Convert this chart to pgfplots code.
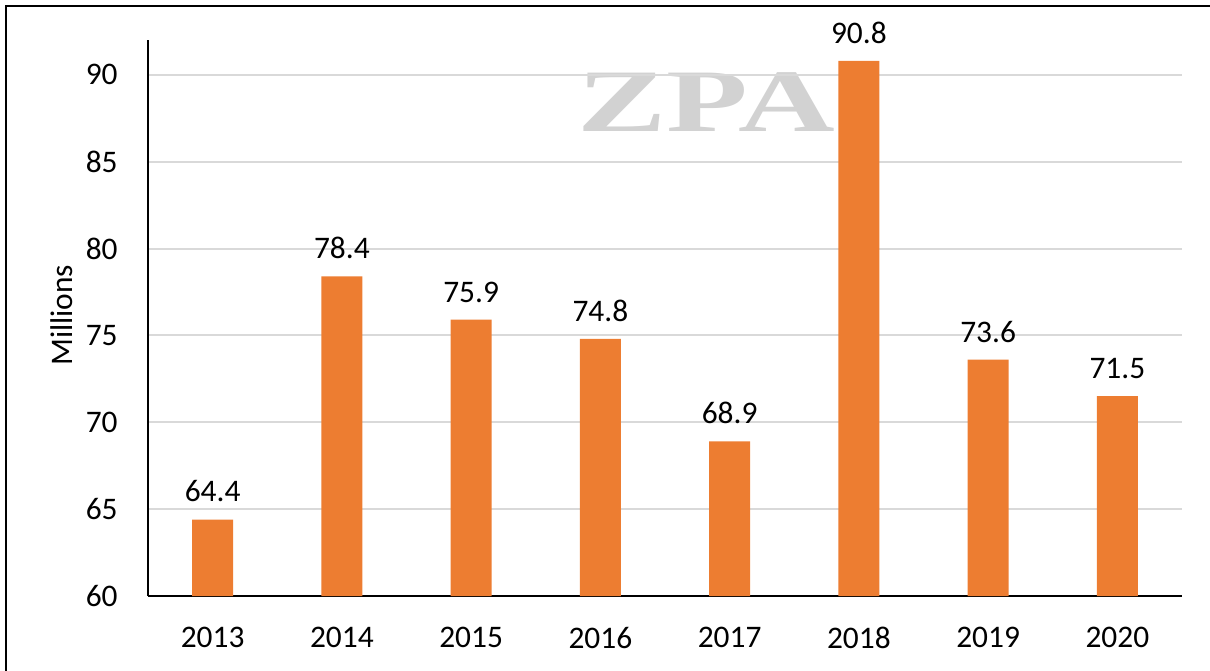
\documentclass[border=0pt]{standalone}
\usepackage{fontspec}
\setmainfont{Carlito}
\newfontfamily\wmfont{Liberation Serif}
\usepackage{pgfplots}
\pgfplotsset{compat=1.18}
\definecolor{barorange}{HTML}{ED7D31}
\definecolor{gridgray}{HTML}{D9D9D9}
\begin{document}
\begin{tikzpicture}
\useasboundingbox (0,0) rectangle (605pt,335pt);
\node[text=gray!35, font=\wmfont\bfseries\fontsize{44.6}{44.6}\selectfont, xscale=1.5, inner sep=0pt] at (353pt,284pt) {ZPA};
\begin{axis}[
  at={(74pt,37pt)}, anchor=south west,
  scale only axis, width=517pt, height=278pt,
  xmin=-0.5, xmax=7.5, ymin=60, ymax=92,
  axis lines=left,
  axis line style={-, black, line width=1pt},
  ytick={60,65,70,75,80,85,90},
  xtick={0,1,2,3,4,5,6,7},
  xticklabels={2013,2014,2015,2016,2017,2018,2019,2020},
  ymajorgrids, grid style={gridgray, line width=1pt},
  major tick length=0pt,
  tick label style={font=\fontsize{15.7}{18}\selectfont},
  yticklabel style={inner sep=0pt, anchor=east, xshift=-15pt},
  xticklabel style={inner sep=0pt, anchor=north, yshift=-15.5pt},
  /pgf/number format/assume math mode=true,
  ylabel={Millions},
  y label style={at={(axis description cs:-0.083,0.505)}, anchor=center, font=\fontsize{15.7}{18}\selectfont},
  clip=false,
  ybar, bar width=20.5pt,
  nodes near coords,
  nodes near coords style={font=\fontsize{15.7}{18}\selectfont, inner sep=0pt, anchor=south, yshift=8.5pt,
    /pgf/number format/.cd, fixed, precision=1, fixed zerofill},
]
\addplot[fill=barorange, draw=none] coordinates {
  (0,64.4) (1,78.4) (2,75.9) (3,74.8) (4,68.9) (5,90.8) (6,73.6) (7,71.5)
};
\end{axis}
\draw[black, line width=1pt] (3pt,-5pt) -- (3pt,332pt) -- (610pt,332pt);
\end{tikzpicture}
\end{document}
